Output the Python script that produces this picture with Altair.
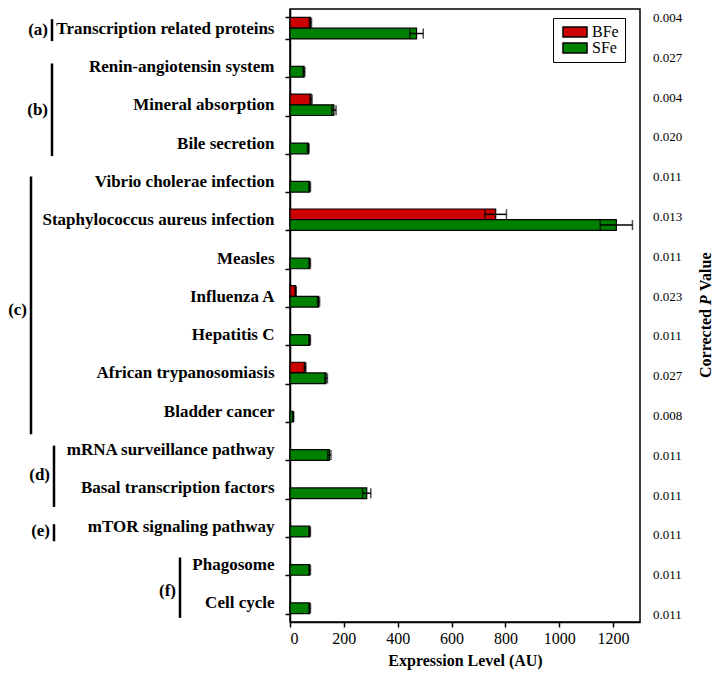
import altair as alt
import pandas as pd

# ---------------- data ----------------
categories = [
    "Transcription related proteins",
    "Renin-angiotensin system",
    "Mineral absorption",
    "Bile secretion",
    "Vibrio cholerae infection",
    "Staphylococcus aureus infection",
    "Measles",
    "Influenza A",
    "Hepatitis C",
    "African trypanosomiasis",
    "Bladder cancer",
    "mRNA surveillance pathway",
    "Basal transcription factors",
    "mTOR signaling pathway",
    "Phagosome",
    "Cell cycle",
]
bfe_values = [76, 0, 78, 0, 0, 764, 0, 21, 0, 56, 0, 0, 0, 0, 0, 0]
bfe_errors = [4, 0, 4, 0, 0, 40, 0, 2, 0, 3, 0, 0, 0, 0, 0, 0]
sfe_values = [470, 52, 163, 68, 73, 1212, 73, 106, 73, 134, 12, 146, 285, 73, 73, 73]
sfe_errors = [25, 3, 8, 3, 3, 60, 3, 4, 3, 5, 2, 6, 15, 3, 3, 3]
p_values = ["0.004", "0.027", "0.004", "0.020", "0.011", "0.013", "0.011", "0.023",
            "0.011", "0.027", "0.008", "0.011", "0.011", "0.011", "0.011", "0.011"]
series_names = ["BFe", "SFe"]
series_colors = ["#cc0000", "#008000"]
x_ticks = [0, 200, 400, 600, 800, 1000, 1200]
x_title = "Expression Level (AU)"
right_title = ["Corrected", "P", "Value"]

# group label, first row, last row, row the label sits at
groups = [
    ("(a)", "Transcription related proteins", "Transcription related proteins", "Transcription related proteins"),
    ("(b)", "Renin-angiotensin system", "Bile secretion", "Mineral absorption"),
    ("(c)", "Vibrio cholerae infection", "Bladder cancer", "Influenza A"),
    ("(d)", "mRNA surveillance pathway", "Basal transcription factors", "Basal transcription factors"),
    ("(e)", "mTOR signaling pathway", "mTOR signaling pathway", "mTOR signaling pathway"),
    ("(f)", "Phagosome", "Cell cycle", "Cell cycle"),
]
# styling of the group brackets (pixel offsets): line x, label right x, label dy, line start/end offsets
group_style = {
    "(a)": dict(lx=-238, tx=-242, dy=2, y0=-9, y1=13),
    "(b)": dict(lx=-238, tx=-242, dy=5, y0=-3, y1=13),
    "(c)": dict(lx=-259, tx=-263, dy=14, y0=-5, y1=23),
    "(d)": dict(lx=-236, tx=-240, dy=-13, y0=-4, y1=19),
    "(e)": dict(lx=-236, tx=-240, dy=5, y0=-2, y1=15),
    "(f)": dict(lx=-110, tx=-114, dy=-12, y0=-7, y1=15),
}

# ---------------- tables ----------------
rows = []
for c, bv, be, sv, se in zip(categories, bfe_values, bfe_errors, sfe_values, sfe_errors):
    rows.append(dict(category=c, series="BFe", value=bv, err=be, lo=bv - be, hi=bv + be))
    rows.append(dict(category=c, series="SFe", value=sv, err=se, lo=sv - se, hi=sv + se))
df = pd.DataFrame(rows)
df_bars = df[df["value"] > 0]
df_err = df[df["err"] > 0]
df_p = pd.DataFrame({"category": categories, "p": p_values})

SERIF = "Liberation Serif"

xscale = alt.Scale(domain=[0, 1300], nice=False, zero=True)
yscale = alt.Scale(domain=categories, paddingInner=0.44, paddingOuter=0.22)
xaxis = alt.Axis(values=x_ticks, title=x_title, format="d")
yaxis = alt.Axis(title=None)
yoff = alt.YOffset("series:N", sort=series_names, scale=alt.Scale(paddingInner=0))


def Y(field="category"):
    return alt.Y(f"{field}:N", sort=categories, scale=yscale, axis=yaxis, title=None)


def X(field):
    return alt.X(f"{field}:Q", scale=xscale, axis=xaxis, title=x_title)


bars = alt.Chart(df_bars).mark_bar(stroke="black", strokeWidth=1.2).encode(
    x=X("value"),
    y=Y(),
    yOffset=yoff,
    color=alt.Color(
        "series:N",
        scale=alt.Scale(domain=series_names, range=series_colors),
        legend=alt.Legend(
            title=None, orient="none", legendX=263, legendY=9,
            symbolType="M-2.4,-1H2.4V1H-2.4Z", symbolSize=100,
            symbolOffset=8,
            symbolStrokeColor="black", symbolStrokeWidth=1.5,
            labelFont=SERIF, labelFontSize=16, labelColor="black", labelOffset=9,
            padding=6, strokeColor="black", fillColor="white", rowPadding=0,
        ),
    ),
)

err_rule = alt.Chart(df_err).mark_rule(color="black", strokeWidth=1.5).encode(
    x=X("lo"), x2="hi:Q", y=Y(), yOffset=yoff
)
cap_lo = alt.Chart(df_err).mark_tick(color="black", thickness=1.5, size=10).encode(
    x=X("lo"), y=Y(), yOffset=yoff
)
cap_hi = alt.Chart(df_err).mark_tick(color="black", thickness=1.5, size=10).encode(
    x=X("hi"), y=Y(), yOffset=yoff
)

layers = [bars, err_rule, cap_lo, cap_hi]

for label, first, last, anchor in groups:
    st = group_style[label]
    gdf = pd.DataFrame({"first": [first], "last": [last], "anchor": [anchor], "label": [label]})
    line = alt.Chart(gdf).mark_rule(
        color="black", strokeWidth=2.5, yOffset=st["y0"], y2Offset=st["y1"]
    ).encode(x=alt.value(st["lx"]), y=Y("first"), y2="last:N")
    txt = alt.Chart(gdf).mark_text(
        align="right", baseline="middle", font=SERIF, fontSize=17, fontWeight="bold",
        color="black", dy=st["dy"]
    ).encode(x=alt.value(st["tx"]), y=Y("anchor"), text="label:N")
    layers += [line, txt]

# right-hand title "Corrected P Value" (P in italics)
tdf = pd.DataFrame({"t": [0]})
TX = 416
t1 = alt.Chart(tdf).mark_text(
    text=right_title[0], angle=270, align="right", baseline="middle",
    font=SERIF, fontSize=16, fontWeight="bold", color="black"
).encode(x=alt.value(TX), y=alt.value(300))
t2 = alt.Chart(tdf).mark_text(
    text=right_title[1], angle=270, align="center", baseline="middle",
    font=SERIF, fontSize=16, fontWeight="bold", fontStyle="italic", color="black"
).encode(x=alt.value(TX), y=alt.value(291))
t3 = alt.Chart(tdf).mark_text(
    text=right_title[2], angle=270, align="left", baseline="middle",
    font=SERIF, fontSize=16, fontWeight="bold", color="black"
).encode(x=alt.value(TX), y=alt.value(282))
layers += [t1, t2, t3]

main = alt.layer(*layers)

# p-value column: its own point scale (the printed column is spaced slightly wider than the rows)
ptext = alt.Chart(df_p).mark_text(
    align="left", baseline="middle", font=SERIF, fontSize=13, color="black"
).encode(
    x=alt.value(363),
    y=alt.Y("category:N", sort=categories,
            scale=alt.Scale(type="point", domain=categories, range=[9, 606], padding=0),
            axis=None, title=None),
    text="p:N",
)

chart = alt.layer(main, ptext).resolve_scale(y="independent").properties(
    width=350,
    height=613,
    autosize=alt.AutoSizeParams(type="none"),
    padding={"left": 282, "top": 1, "right": 75, "bottom": 48},
    background="white",
).configure_view(
    stroke="black", strokeWidth=1.5
).configure_axisY(
    labelFont=SERIF, labelFontWeight="bold", labelFontSize=17, labelColor="black",
    labelPadding=11, labelLimit=400, tickBand="extent", tickSize=5, tickColor="black",
    tickWidth=1.5, domainColor="black", domainWidth=1.5, grid=False,
).configure_axisX(
    labelFont=SERIF, labelFontSize=16, labelColor="black", labelPadding=3,
    tickSize=5, tickColor="black", tickWidth=1.5, domainColor="black", domainWidth=1.5,
    grid=False, titleFont=SERIF, titleFontSize=16, titleFontWeight="bold",
    titleColor="black", titlePadding=6,
)

chart.save("out.html", embed_options={"renderer": "svg", "actions": False})
